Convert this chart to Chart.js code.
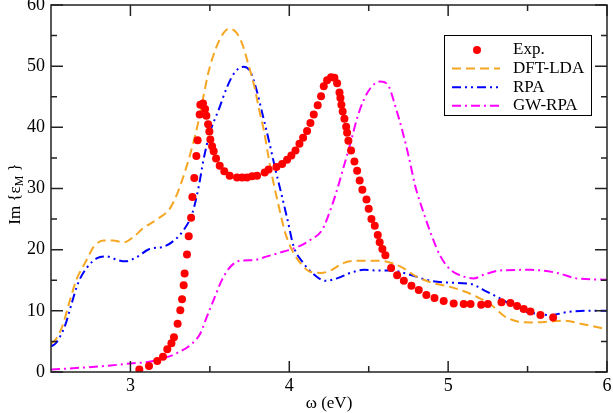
<!DOCTYPE html>
<html lang="en">

<head>
    <meta charset="UTF-8">
    <script src="https://cdn.jsdelivr.net/npm/chart.js@4.4.1/dist/chart.umd.min.js"></script>
    <title>Im eps</title>
    <style>
        body {
            margin: 0;
            background: #fff;
        }
    </style>
</head>

<body>
    <canvas id="plot" width="613" height="413"></canvas>
</body>
<script>
    // experiment
    const expX = [3.056, 3.117, 3.169, 3.205, 3.232, 3.258, 3.274, 3.297, 3.314, 3.325, 3.335, 3.341, 3.356, 3.367, 3.382, 3.39, 3.402, 3.415, 3.423, 3.436, 3.44, 3.457, 3.47, 3.478, 3.489, 3.497, 3.503, 3.514, 3.524, 3.539, 3.562, 3.591, 3.625, 3.671, 3.703, 3.734, 3.766, 3.797, 3.845, 3.87, 3.919, 3.955, 3.986, 4.013, 4.039, 4.064, 4.087, 4.112, 4.133, 4.154, 4.179, 4.2, 4.217, 4.238, 4.263, 4.284, 4.301, 4.316, 4.322, 4.328, 4.336, 4.347, 4.358, 4.364, 4.372, 4.389, 4.41, 4.427, 4.443, 4.46, 4.486, 4.5, 4.517, 4.538, 4.557, 4.569, 4.586, 4.605, 4.641, 4.679, 4.721, 4.769, 4.815, 4.863, 4.914, 4.972, 5.035, 5.098, 5.141, 5.208, 5.25, 5.336, 5.392, 5.434, 5.476, 5.518, 5.581, 5.661];
    const expY = [0.4, 1.0, 1.8, 2.5, 3.7, 4.7, 5.7, 7.9, 10.1, 11.9, 14.2, 16.1, 19.2, 22.2, 25.2, 28.6, 31.7, 35.3, 37.9, 42.1, 43.7, 43.9, 43.0, 41.9, 40.5, 39.3, 38.0, 36.9, 36.1, 34.9, 33.7, 32.8, 32.1, 31.8, 31.8, 31.8, 32.0, 32.1, 32.6, 33.1, 33.5, 34.0, 34.7, 35.4, 36.2, 37.3, 38.3, 39.4, 40.7, 42.1, 43.6, 45.1, 46.7, 47.7, 48.2, 48.1, 47.2, 45.7, 44.8, 43.7, 42.6, 41.4, 40.1, 39.1, 37.8, 36.2, 34.4, 32.9, 31.3, 29.8, 28.2, 26.7, 25.0, 23.9, 22.4, 21.2, 20.1, 19.1, 17.0, 15.8, 14.9, 14.1, 13.4, 12.6, 12.1, 11.6, 11.2, 11.1, 11.1, 11.0, 11.1, 11.4, 11.3, 10.8, 10.3, 9.9, 9.3, 8.9];

    // DFT-LDA
    const ldaX = [2.5, 2.52, 2.57, 2.62, 2.66, 2.72, 2.77, 2.83, 2.89, 2.96, 3.02, 3.08, 3.17, 3.25, 3.3, 3.34, 3.39, 3.43, 3.46, 3.49, 3.535, 3.58, 3.62, 3.67, 3.71, 3.74, 3.78, 3.81, 3.84, 3.87, 3.9, 3.93, 3.975, 4.02, 4.07, 4.13, 4.2, 4.26, 4.34, 4.43, 4.51, 4.62, 4.71, 4.8, 4.91, 5.0, 5.1, 5.18, 5.27, 5.35, 5.43, 5.52, 5.62, 5.73, 5.85, 6.0];
    const ldaY = [4.7, 5.0, 7.4, 11.8, 15.1, 18.1, 20.5, 21.5, 21.5, 21.2, 22.1, 23.5, 25.0, 26.8, 29.5, 32.5, 36.9, 41.2, 45.1, 48.9, 52.7, 55.2, 56.1, 55.4, 53.2, 50.5, 46.7, 42.9, 39.5, 35.0, 31.0, 27.5, 22.7, 19.8, 17.8, 16.4, 16.2, 16.6, 17.8, 18.2, 18.2, 18.0, 17.1, 15.6, 14.5, 14.0, 13.2, 12.3, 11.0, 9.2, 8.3, 8.1, 8.2, 8.4, 7.8, 7.0];

    // RPA
    const rpaX = [2.5, 2.53, 2.59, 2.63, 2.67, 2.73, 2.79, 2.85, 2.92, 2.97, 3.04, 3.12, 3.21, 3.27, 3.335, 3.39, 3.43, 3.46, 3.5, 3.556, 3.61, 3.66, 3.713, 3.755, 3.793, 3.83, 3.87, 3.912, 3.944, 3.986, 4.028, 4.08, 4.144, 4.228, 4.3, 4.385, 4.47, 4.55, 4.64, 4.76, 4.89, 5.015, 5.14, 5.246, 5.35, 5.455, 5.54, 5.644, 5.75, 5.875, 6.0];
    const rpaY = [4.2, 4.7, 7.7, 11.2, 14.5, 17.2, 18.6, 18.9, 18.3, 18.1, 18.8, 20.1, 20.5, 21.4, 23.2, 26.0, 30.3, 34.7, 39.1, 42.9, 46.7, 49.1, 49.9, 49.1, 46.2, 42.3, 38.0, 33.2, 29.8, 25.2, 20.5, 18.1, 16.2, 14.9, 15.3, 16.2, 16.7, 16.6, 16.6, 15.9, 14.9, 14.6, 14.4, 13.1, 11.7, 10.1, 9.6, 9.3, 9.8, 10.0, 10.0];

    // GW-RPA
    const gwX = [2.5, 2.69, 2.85, 3.0, 3.125, 3.19, 3.25, 3.293, 3.377, 3.44, 3.482, 3.524, 3.577, 3.629, 3.692, 3.776, 3.86, 3.965, 4.049, 4.133, 4.206, 4.259, 4.301, 4.343, 4.385, 4.427, 4.469, 4.52, 4.574, 4.626, 4.668, 4.71, 4.752, 4.794, 4.846, 4.899, 4.952, 5.015, 5.098, 5.161, 5.224, 5.33, 5.518, 5.686, 5.812, 6.0];
    const gwY = [0.4, 0.7, 1.0, 1.4, 1.7, 2.2, 2.6, 3.1, 4.4, 6.3, 9.1, 11.8, 15.1, 17.2, 18.2, 18.3, 18.9, 19.7, 20.4, 21.6, 23.2, 26.5, 29.8, 33.6, 37.4, 41.5, 44.5, 46.7, 47.5, 46.7, 43.4, 39.6, 35.2, 30.3, 26.0, 22.1, 18.9, 16.7, 15.6, 15.3, 15.9, 16.6, 16.7, 16.2, 15.3, 15.1];

    const xTicks = [3, 4, 5, 6];
    const xMinor = [3.5, 4.5, 5.5];
    const yTicks = [0, 10, 20, 30, 40, 50, 60];
    const yMinor = [5, 15, 25, 35, 45, 55];
    const names = ['Exp.', 'DFT-LDA', 'RPA', 'GW-RPA'];

    const serif = 'Liberation Serif, Times New Roman, serif';

    function pts(xs, ys) {
        return xs.map((x, i) => ({ x: x, y: ys[i] }));
    }

    // box + inward ticks on all four sides, legend, y title
    const frame = {
        id: 'frame',
        afterDraw(chart) {
            const c = chart.ctx;
            const a = chart.chartArea;
            const sx = chart.scales.x, sy = chart.scales.y;
            c.save();
            c.strokeStyle = '#222';
            c.lineWidth = 1.5;
            c.strokeRect(a.left, a.top, a.right - a.left, a.bottom - a.top);
            c.beginPath();
            const tx = (v, len) => {
                const p = sx.getPixelForValue(v);
                c.moveTo(p, a.bottom); c.lineTo(p, a.bottom - len);
                c.moveTo(p, a.top); c.lineTo(p, a.top + len);
            };
            const ty = (v, len) => {
                const p = sy.getPixelForValue(v);
                c.moveTo(a.left, p); c.lineTo(a.left + len, p);
                c.moveTo(a.right, p); c.lineTo(a.right - len, p);
            };
            xTicks.forEach(v => tx(v, 11));
            xMinor.forEach(v => tx(v, 6));
            yTicks.forEach(v => ty(v, 12));
            yMinor.forEach(v => ty(v, 6));
            c.stroke();

            // legend
            c.lineWidth = 1;
            c.strokeStyle = '#000';
            c.strokeRect(444.5, 35.5, 147, 80);
            c.font = '17px ' + serif;
            c.textBaseline = 'middle';
            c.fillStyle = '#000';
            chart.data.datasets.forEach((ds, i) => {
                const yy = 50 + i * 18.6;
                if (ds.showLine === false) {
                    c.beginPath();
                    c.fillStyle = ds.backgroundColor;
                    c.arc(477, yy, 4, 0, Math.PI * 2);
                    c.fill();
                } else {
                    c.beginPath();
                    c.setLineDash(ds.borderDash);
                    c.strokeStyle = ds.borderColor;
                    c.lineWidth = 2;
                    c.moveTo(452, yy); c.lineTo(500, yy);
                    c.stroke();
                    c.setLineDash([]);
                }
                c.fillStyle = '#000';
                c.fillText(ds.label, 513, yy);
            });

            // y title with subscript
            c.translate(16, 194);
            c.rotate(-Math.PI / 2);
            const big = '17px ' + serif, small = '12px ' + serif;
            c.font = big;
            const w1 = c.measureText('Im {\u03b5').width;
            const w3 = c.measureText(' }').width;
            c.font = small;
            const w2 = c.measureText('M').width;
            let x0 = -(w1 + w2 + w3) / 2;
            c.textAlign = 'left';
            c.font = big;
            c.fillText('Im {\u03b5', x0, 0);
            c.font = small;
            c.fillText('M', x0 + w1, 4);
            c.font = big;
            c.fillText(' }', x0 + w1 + w2, 0);
            c.restore();
        }
    };

    const ctx = document.getElementById('plot').getContext('2d');
    const chart = new Chart(ctx, {
        type: 'scatter',
        data: {
            datasets: [{
                label: names[0],
                data: pts(expX, expY),
                showLine: false,
                backgroundColor: '#ff0000',
                borderWidth: 0,
                pointRadius: 4,
                order: 0
            }, {
                label: names[1],
                data: pts(ldaX, ldaY),
                showLine: true,
                borderColor: '#f5a623',
                borderWidth: 2,
                borderDash: [9, 5],
                pointRadius: 0,
                cubicInterpolationMode: 'monotone',
                order: 1
            }, {
                label: names[2],
                data: pts(rpaX, rpaY),
                showLine: true,
                borderColor: '#0000ff',
                borderWidth: 2,
                borderDash: [9, 4, 2, 4, 2, 4],
                pointRadius: 0,
                cubicInterpolationMode: 'monotone',
                order: 2
            }, {
                label: names[3],
                data: pts(gwX, gwY),
                showLine: true,
                borderColor: '#ff00ff',
                borderWidth: 2,
                borderDash: [9, 4, 2, 4],
                pointRadius: 0,
                cubicInterpolationMode: 'monotone',
                order: 3
            }]
        },
        options: {
            responsive: false,
            animation: false,
            devicePixelRatio: 1,
            layout: { padding: { left: 0, right: 6, top: 5, bottom: 0 } },
            plugins: {
                legend: { display: false },
                tooltip: { enabled: false }
            },
            scales: {
                x: {
                    type: 'linear',
                    min: 2.5,
                    max: 6,
                    afterBuildTicks: s => { s.ticks = xTicks.map(v => ({ value: v })); },
                    afterFit: s => { s.height = 41; s.paddingLeft = 0; s.paddingRight = 0; },
                    grid: { display: false, drawTicks: false },
                    border: { display: false },
                    ticks: { color: '#000', padding: 3, maxRotation: 0, font: { family: serif, size: 18 } },
                    title: {
                        display: true,
                        text: '\u03c9 (eV)',
                        color: '#000',
                        padding: 0,
                        font: { family: serif, size: 17, lineHeight: 1.1 }
                    }
                },
                y: {
                    min: 0,
                    max: 60,
                    afterBuildTicks: s => { s.ticks = yTicks.map(v => ({ value: v })); },
                    afterFit: s => { s.width = 51; s.paddingTop = 0; s.paddingBottom = 0; },
                    grid: { display: false, drawTicks: false },
                    border: { display: false },
                    ticks: { color: '#000', padding: 6, font: { family: serif, size: 18 } }
                }
            }
        },
        plugins: [frame]
    });
</script>

</html>
